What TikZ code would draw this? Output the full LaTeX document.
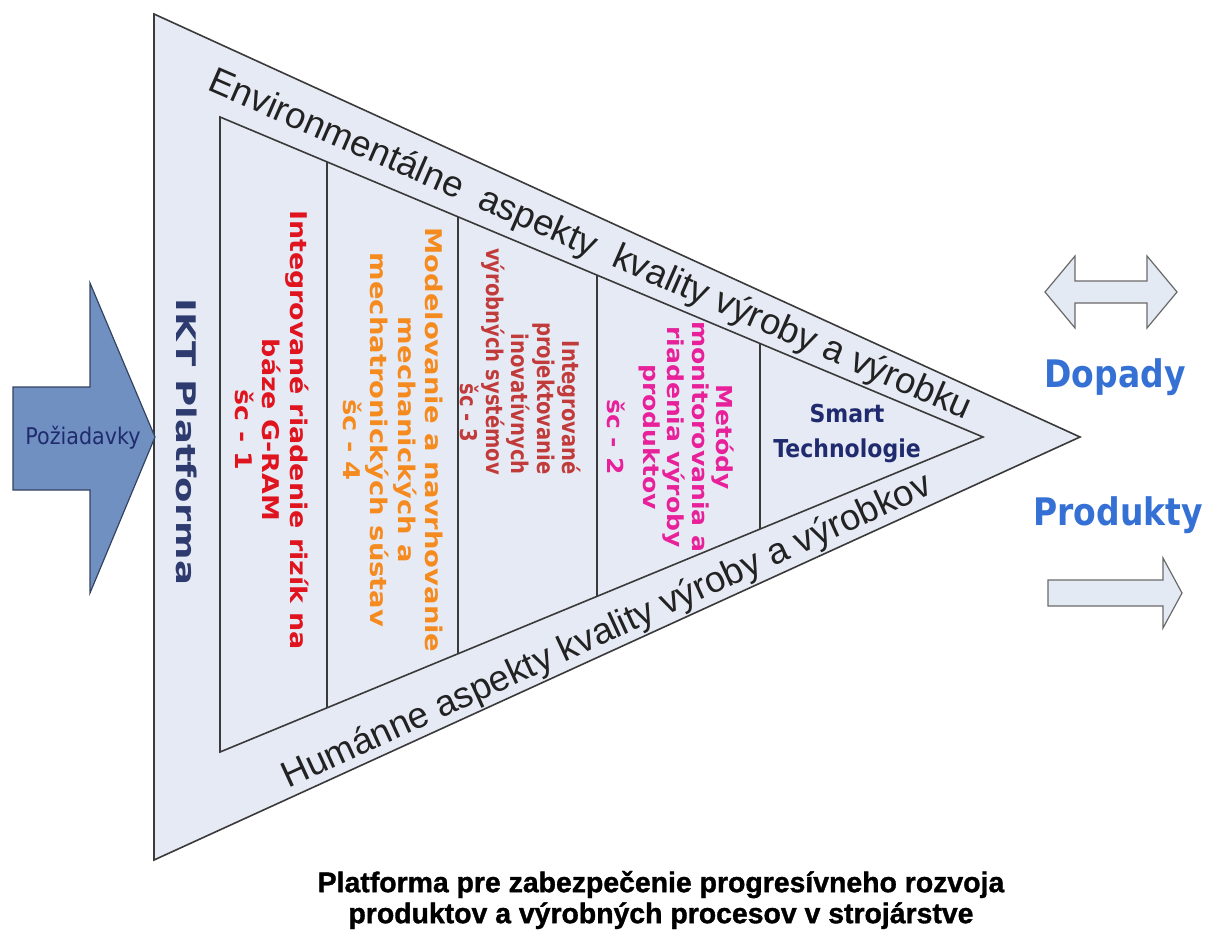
\documentclass[tikz,border=0pt]{standalone}
\usepackage{graphicx}
\usepackage{fontspec}
\setmainfont{Liberation Sans}
\newfontfamily\cellfont{DejaVu Sans Bold}
\newfontfamily\plainfont{DejaVu Sans Condensed}
\newfontfamily\titlefont{Liberation Sans Bold}[FakeBold=1.2]
\usetikzlibrary{calc}

\definecolor{trifill}{HTML}{E6EAF4}
\definecolor{framecol}{HTML}{3A3A3A}
\definecolor{arrowfill}{HTML}{7090C2}
\definecolor{arrowline}{HTML}{34435F}
\definecolor{lightarrow}{HTML}{E4EAF4}
\definecolor{lightline}{HTML}{6A6A6A}
\definecolor{redA}{HTML}{E0141E}
\definecolor{orangeA}{HTML}{F58A1F}
\definecolor{roseA}{HTML}{C23B3B}
\definecolor{magentaA}{HTML}{E8219B}
\definecolor{navyA}{HTML}{1F2B6E}
\definecolor{iktcol}{HTML}{2D3B6E}
\definecolor{bluetxt}{HTML}{3570D4}
\definecolor{bandtxt}{HTML}{222222}

% text stretched along its reading direction
\newcommand\vlines[2]{\scalebox{#1}[1]{\begin{tabular}{@{}c@{}}#2\end{tabular}}}
\newcommand\vlinesr[2]{\scalebox{#1}[1]{\begin{tabular}{@{}r@{}}#2\end{tabular}}}

\tikzset{
  frame/.style={draw=framecol, line width=1.6pt, line join=miter},
  divider/.style={draw=framecol, line width=1.1pt},
  celltext/.style={inner sep=0pt, rotate=-90, font=\cellfont\fontsize{23}{27.5}\selectfont},
  bandtext/.style={inner sep=0pt, text=bandtxt, font=\fontsize{36.5}{40}\selectfont},
  bigarrow/.style={draw=arrowline, line width=1.2pt, fill=arrowfill},
  smallarrow/.style={draw=lightline, line width=1.2pt, fill=lightarrow},
  sidetext/.style={inner sep=0pt, text=bluetxt, font=\cellfont\fontsize{33}{36}\selectfont},
}

\begin{document}
\begin{tikzpicture}[x=1pt, y=-1pt]
\useasboundingbox (0,0) rectangle (1209,937);

% outer triangle and inner triangle
\coordinate (otl) at (154,14);
\coordinate (oap) at (1080,437);
\coordinate (obl) at (154,860);
\coordinate (itl) at (220,117);
\coordinate (iap) at (983,437);
\coordinate (ibl) at (220,752);

\draw[frame, fill=trifill] (otl) -- (oap) -- (obl) -- cycle;
\draw[frame] (itl) -- (iap) -- (ibl) -- cycle;

% column dividers inside the inner triangle
\foreach \f/\n in {0.1402/a, 0.3119/b, 0.4941/c, 0.7077/d}{
  \coordinate (top\n) at ($(itl)!\f!(iap)$);
  \coordinate (bot\n) at ($(ibl)!\f!(iap)$);
  \draw[divider] (top\n) -- (bot\n);
}

% input arrow
\draw[bigarrow] (13,387) -- (90,387) -- (90,283) -- (155,437) -- (90,593)
  -- (90,490) -- (13,490) -- cycle;
\node[inner sep=0pt, text=navyA, font=\plainfont\fontsize{23}{26}\selectfont]
  (poz) at (83,438) {Požiadavky};

% platform label
\node[inner sep=0pt, rotate=-90, text=iktcol, font=\cellfont\fontsize{27}{30}\selectfont]
  (ikt) at (187,442) {\scalebox{1.37}[1]{IKT Platforma}};

% column texts
\node[celltext, text=redA] (c1) at (268,430)
  {\vlines{1.17}{Integrované riadenie rizík na\\báze G-RAM\\šc - 1}};
\node[celltext, text=orangeA] (c2) at (390,440)
  {\vlines{1.19}{Modelovanie a navrhovanie\\mechanických a\\mechatronických sústav\\šc - 4}};
\node[celltext, text=roseA, font=\cellfont\fontsize{23}{24.5}\selectfont, anchor=east] (c3) at (517,475)
  {\vlinesr{0.85}{Integrované\\projektovanie\\inovatívnych\\výrobných systémov\\šc - 3\hspace*{38pt}}};
\node[celltext, text=magentaA, font=\cellfont\fontsize{22}{24}\selectfont] (c4) at (667,437)
  {\vlines{1.14}{Metódy\\monitorovania a\\riadenia výroby\\produktov\\[12pt]šc - 2}};
\node[inner sep=0pt, text=navyA, font=\cellfont\fontsize{22}{31}\selectfont]
  (c5) at (847,433) {\scalebox{1}[1.12]{\begin{tabular}{@{}c@{}}Smart\\Technologie\end{tabular}}};

% band labels
\node[bandtext, rotate=-23.5, anchor=base] (env) at (586,255)
  {Environmentálne~\ aspekty~\ kvality výroby a výrobku};
\node[bandtext, rotate=24.6, anchor=base] (hum) at (611,641)
  {Humánne aspekty kvality výroby a výrobkov};

% outputs
\draw[smallarrow] (1045,292) -- (1075,256) -- (1075,281) -- (1147,281) -- (1147,256)
  -- (1177,292) -- (1147,328) -- (1147,303) -- (1075,303) -- (1075,328) -- cycle;
\node[sidetext] (dop) at (1115,377) {\scalebox{1}[1.15]{Dopady}};
\node[sidetext] (prod) at (1118,515) {\scalebox{1}[1.15]{Produkty}};
\draw[smallarrow] (1048,580) -- (1163,580) -- (1163,558) -- (1182,593) -- (1163,628)
  -- (1163,606) -- (1048,606) -- cycle;

% caption
\node[inner sep=0pt, align=center, font=\titlefont\fontsize{28.4}{31}\selectfont]
  (title) at (661,900) {Platforma pre zabezpečenie progresívneho rozvoja\\
  produktov a výrobných procesov v strojárstve};
\end{tikzpicture}
\end{document}
